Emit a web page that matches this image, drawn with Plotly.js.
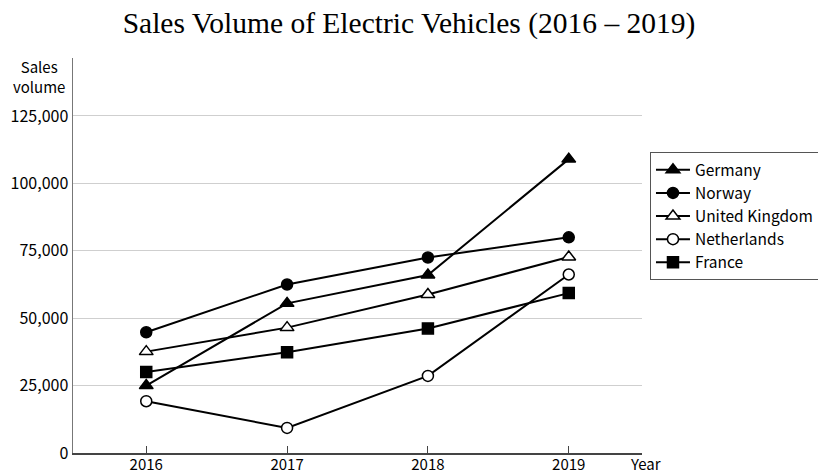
<!DOCTYPE html>
<html>
<head>
<meta charset="utf-8">
<script src="https://cdn.plot.ly/plotly-3.0.1.min.js"></script>
<style>html,body{margin:0;padding:0;background:#fff;}#chart{width:818px;height:474px;}</style>
</head>
<body>
<div id="chart"></div>
<script>
const years = ["2016", "2017", "2018", "2019"];
const germany = [25000, 55500, 66000, 109000];
const norway = [44800, 62500, 72500, 80000];
const unitedKingdom = [37600, 46500, 58800, 72700];
const netherlands = [19200, 9300, 28600, 66200];
const france = [30000, 37400, 46200, 59300];
const yTicks = [0, 25000, 50000, 75000, 100000, 125000];

const sans = "'Noto Sans CJK JP', 'Noto Sans', 'DejaVu Sans', sans-serif";
function tr(name, y, symbol, filled) {
  return {
    x: years, y: y, name: name, type: "scatter", mode: "lines+markers",
    line: {color: "#000", width: 2},
    marker: {symbol: symbol, size: symbol === "triangle-up" ? 12 : 11,
             color: filled ? "#000" : "#fff",
             line: {color: "#000", width: 1.5}}
  };
}
const data = [
  tr("Germany", germany, "triangle-up", true),
  tr("Norway", norway, "circle", true),
  tr("United Kingdom", unitedKingdom, "triangle-up", false),
  tr("Netherlands", netherlands, "circle", false),
  tr("France", france, "square", true)
];

const layout = {
  width: 818, height: 474,
  margin: {l: 73, r: 176, t: 58, b: 21},
  paper_bgcolor: "#fff", plot_bgcolor: "#fff",
  separators: ".,",
  title: {text: "Sales Volume of Electric Vehicles (2016 – 2019)", font: {family: "'Liberation Serif', 'Times New Roman', serif", size: 29.5, color: "#000"}, x: 0.5, xanchor: "center", y: 0.953, yanchor: "middle"},
  font: {family: sans, size: 16, color: "#000"},
  showlegend: true,
  legend: {xref: "container", yref: "container", x: 0.7946, xanchor: "left", y: 0.679, yanchor: "top", bordercolor: "#555", borderwidth: 1, font: {family: sans, size: 15.5, color: "#000"}, tracegroupgap: 0, itemwidth: 34},
  xaxis: {
    type: "category", range: [-0.52, 3.52],
    showline: true, linecolor: "#444", linewidth: 1.5,
    ticks: "inside", ticklen: 7, tickcolor: "#444", tickwidth: 1,
    ticklabelstandoff: -3,
    showgrid: false, zeroline: false, fixedrange: true,
    tickfont: {family: sans, size: 15, color: "#000"}
  },
  yaxis: {
    range: [0, 146500], tickvals: yTicks, tickformat: ",d",
    showline: true, linecolor: "#777", linewidth: 1.5,
    ticks: "", showgrid: true, gridcolor: "#cfcfcf", gridwidth: 1,
    zeroline: false, fixedrange: true,
    tickfont: {family: sans, size: 16, color: "#000"}
  },
  annotations: [
    {text: "Sales<br>volume", xref: "paper", yref: "paper", x: -0.01, y: 1.01, xanchor: "right", yanchor: "top", showarrow: false, align: "center", font: {family: sans, size: 15, color: "#000"}},
    {text: "Year", xref: "paper", yref: "paper", x: 0.975, y: -0.026, xanchor: "left", yanchor: "middle", showarrow: false, font: {family: sans, size: 15, color: "#000"}}
  ]
};
Plotly.newPlot("chart", data, layout, {displayModeBar: false, staticPlot: true});
</script>
</body>
</html>
